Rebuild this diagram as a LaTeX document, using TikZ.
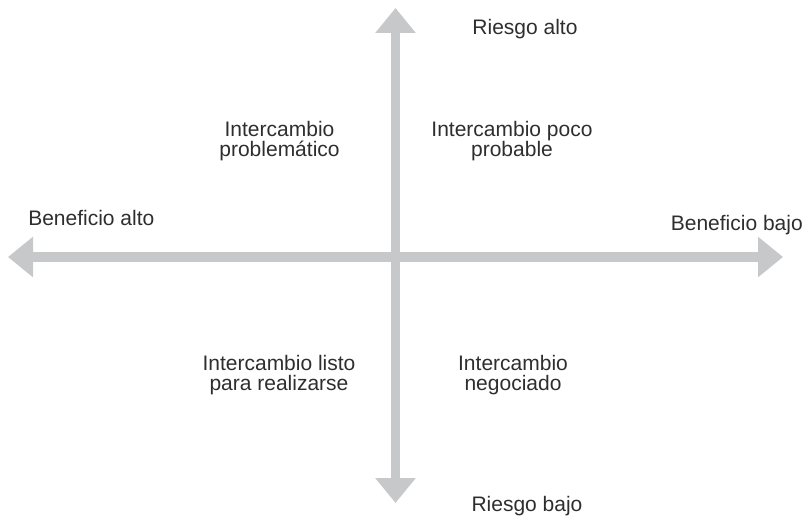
\documentclass[tikz,border=0pt]{standalone}
\usepackage{fontspec}
\setmainfont{Liberation Sans}
\usetikzlibrary{arrows.meta}

\definecolor{axisgray}{HTML}{C7C8CA}
\definecolor{labelgray}{HTML}{2E2E2E}

\tikzset{
    axis/.style={draw=axisgray, line width=7.1pt,
        {Triangle[length=18.75pt, width=29.25pt]}-{Triangle[length=18.75pt, width=29.25pt]}},
    label/.style={inner sep=0pt, text=labelgray,
        font=\fontsize{15.75pt}{15pt}\selectfont},
    quadrant/.style={label, align=center, anchor=north}
}

\begin{document}
\begin{tikzpicture}[x=0.75pt, y=-0.75pt]
    \useasboundingbox (0,0) rectangle (805,517);

    % ends of the two axes
    \coordinate (left) at (8,257);
    \coordinate (right) at (783,257);
    \coordinate (top) at (395.5,8);
    \coordinate (bottom) at (395.5,503);

    \draw[axis] (left) -- (right);
    \draw[axis] (top) -- (bottom);

    % axis labels
    \node[label, anchor=base] (riskhigh) at (525,35) {Riesgo alto};
    \node[label, anchor=base] (risklow) at (527,511.5) {Riesgo bajo};
    \node[label, anchor=base west] (benefithigh) at (28,225) {Beneficio alto};
    \node[label, anchor=base east] (benefitlow) at (803,230) {Beneficio bajo};

    % quadrants
    \node[quadrant] (problem) at (279.5,121) {Intercambio\\problemático};
    \node[quadrant] (unlikely) at (512,121) {Intercambio poco\\probable};
    \node[quadrant] (ready) at (279,355) {Intercambio listo\\para realizarse};
    \node[quadrant] (negotiated) at (513,355) {Intercambio\\negociado};
\end{tikzpicture}
\end{document}
